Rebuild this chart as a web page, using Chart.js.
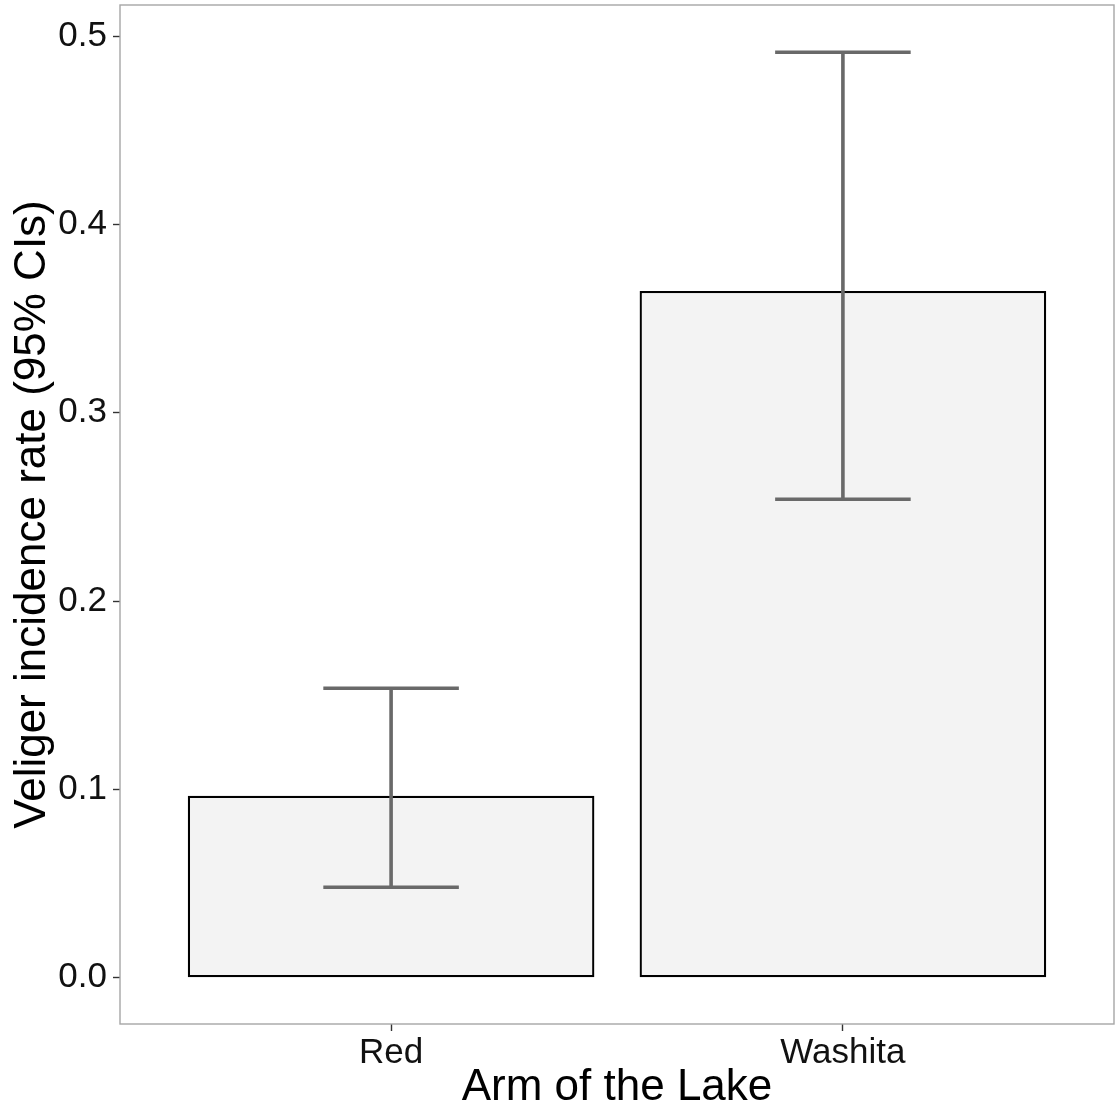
<!DOCTYPE html>
<html>
<head>
<meta charset="utf-8">
<script src="https://cdn.jsdelivr.net/npm/chart.js@4/dist/chart.umd.min.js"></script>
<style>
  html, body { margin: 0; padding: 0; background: #ffffff; }
  #wrap { width: 1118px; height: 1114px; }
</style>
</head>
<body>
<div id="wrap"><canvas id="c" width="1118" height="1114"></canvas></div>
<script>
// ---- data ----
const categories = ["Red", "Washita"];
const incidence = [0.0966, 0.3647];
const ciLower = [0.0480, 0.2541];
const ciUpper = [0.1537, 0.4915];
const yTicks = [0.0, 0.1, 0.2, 0.3, 0.4, 0.5];
const xTitle = "Arm of the Lake";
const yTitle = "Veliger incidence rate (95% CIs)";

const positions = categories.map((_, i) => i + 1);

const FONT = "'Liberation Sans', Arial, Helvetica, sans-serif";

const errorBars = {
  id: 'errorBars',
  afterDatasetsDraw(chart) {
    const xs = chart.scales.x, ys = chart.scales.y;
    const ctx = chart.ctx;
    ctx.save();
    ctx.strokeStyle = '#696969';
    ctx.lineWidth = 3.6;
    ctx.lineCap = 'butt';
    const halfCap = 0.15;
    positions.forEach((p, i) => {
      const x = xs.getPixelForValue(p);
      const xl = xs.getPixelForValue(p - halfCap);
      const xr = xs.getPixelForValue(p + halfCap);
      const yl = ys.getPixelForValue(ciLower[i]);
      const yu = ys.getPixelForValue(ciUpper[i]);
      ctx.beginPath();
      ctx.moveTo(x, yu); ctx.lineTo(x, yl);
      ctx.moveTo(xl, yu); ctx.lineTo(xr, yu);
      ctx.moveTo(xl, yl); ctx.lineTo(xr, yl);
      ctx.stroke();
    });
    ctx.restore();
  }
};

const panelBorder = {
  id: 'panelBorder',
  afterDraw(chart) {
    const a = chart.chartArea;
    const ctx = chart.ctx;
    ctx.save();
    ctx.strokeStyle = '#a6a6a6';
    ctx.lineWidth = 1.4;
    ctx.strokeRect(a.left, a.top, a.right - a.left, a.bottom - a.top);
    ctx.restore();
  }
};

function zeroPad(s) { s.paddingTop = 0; s.paddingBottom = 0; s.paddingLeft = 0; s.paddingRight = 0; }

new Chart(document.getElementById('c'), {
  type: 'bar',
  data: {
    datasets: [{
      data: positions.map((p, i) => ({ x: p, y: incidence[i] })),
      backgroundColor: '#f3f3f3',
      borderColor: '#000000',
      borderWidth: 2.3,
      borderSkipped: false,
      categoryPercentage: 1.0,
      barPercentage: 0.9
    }]
  },
  options: {
    responsive: false,
    animation: false,
    layout: { padding: { top: 5, right: 4, left: 0, bottom: 0 } },
    plugins: { legend: { display: false }, tooltip: { enabled: false } },
    scales: {
      x: {
        type: 'linear',
        offset: false,
        min: 0.4,
        max: 2.6,
        afterBuildTicks: (s) => { s.ticks = positions.map(v => ({ value: v })); },
        afterFit: (s) => { s.height = 90; zeroPad(s); },
        ticks: {
          callback: (v) => categories[Math.round(v) - 1],
          font: { family: FONT, size: 35 },
          color: '#111111',
          padding: 1,
          maxRotation: 0
        },
        grid: { offset: false, drawOnChartArea: false, tickLength: 7, color: '#333333', tickWidth: 1.4 },
        border: { display: false },
        title: {
          display: true,
          text: xTitle,
          font: { family: FONT, size: 44 },
          color: '#000000',
          padding: { top: 2, bottom: 0 }
        }
      },
      y: {
        type: 'linear',
        min: -0.0246,
        max: 0.5166,
        afterBuildTicks: (s) => { s.ticks = yTicks.map(v => ({ value: v })); },
        afterFit: (s) => { s.width = 120; zeroPad(s); },
        ticks: {
          callback: (v) => v.toFixed(1),
          font: { family: FONT, size: 35 },
          color: '#111111',
          padding: 6
        },
        grid: { drawOnChartArea: false, tickLength: 7, color: '#333333', tickWidth: 1.4 },
        border: { display: false },
        title: {
          display: true,
          text: yTitle,
          font: { family: FONT, size: 44 },
          color: '#000000',
          padding: { top: 6, bottom: 0 }
        }
      }
    }
  },
  plugins: [errorBars, panelBorder]
});
</script>
</body>
</html>
